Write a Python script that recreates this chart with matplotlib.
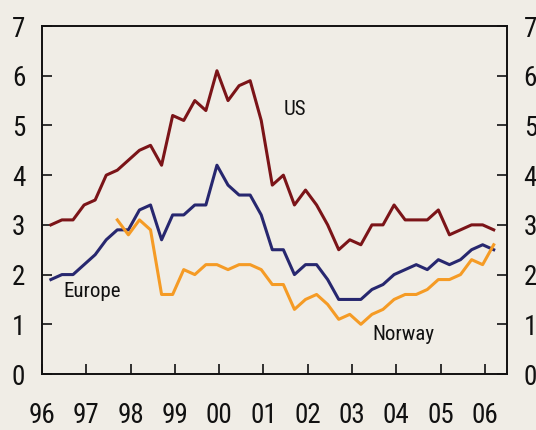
import numpy as np
import matplotlib.pyplot as plt

# Quarterly series, 1996 Q1 - 2006 Q2
us = [3.0, 3.1, 3.1, 3.4, 3.5, 4.0, 4.1, 4.3, 4.5, 4.6,
      4.2, 5.2, 5.1, 5.5, 5.3, 6.1, 5.5, 5.8, 5.9, 5.1,
      3.8, 4.0, 3.4, 3.7, 3.4, 3.0, 2.5, 2.7, 2.6, 3.0,
      3.0, 3.4, 3.1, 3.1, 3.1, 3.3, 2.8, 2.9, 3.0, 3.0,
      2.9]
europe = [1.9, 2.0, 2.0, 2.2, 2.4, 2.7, 2.9, 2.9, 3.3, 3.4,
          2.7, 3.2, 3.2, 3.4, 3.4, 4.2, 3.8, 3.6, 3.6, 3.2,
          2.5, 2.5, 2.0, 2.2, 2.2, 1.9, 1.5, 1.5, 1.5, 1.7,
          1.8, 2.0, 2.1, 2.2, 2.1, 2.3, 2.2, 2.3, 2.5, 2.6,
          2.5]
# Norway starts in 1997 Q4
norway = [3.1, 2.8, 3.1, 2.9,
          1.6, 1.6, 2.1, 2.0, 2.2, 2.2, 2.1, 2.2, 2.2, 2.1,
          1.8, 1.8, 1.3, 1.5, 1.6, 1.4, 1.1, 1.2, 1.0, 1.2,
          1.3, 1.5, 1.6, 1.6, 1.7, 1.9, 1.9, 2.0, 2.3, 2.2,
          2.6]
years = list(range(1996, 2007))
year_labels = ['96', '97', '98', '99', '00', '01', '02', '03', '04', '05', '06']

t = 1996.2 + 0.25 * np.arange(len(us))
t_nor = t[len(us) - len(norway):]

bg = '#f0ede6'
plt.rcParams['font.family'] = ['Roboto Condensed', 'DejaVu Sans']

fig = plt.figure(figsize=(5.36, 4.30), dpi=100, facecolor=bg)
ax = fig.add_axes([0.0784, 0.1302, 0.8675, 0.8093], facecolor=bg)

ax.plot(t, us, color='#7b1418', lw=2.2)
ax.plot(t, europe, color='#27276f', lw=2.2)
ax.plot(t_nor, norway, color='#f59b25', lw=2.2)

ax.set_xlim(1996, 2006.5)
ax.set_ylim(0, 7)
ax.set_xticks(years)
ax.set_xticklabels(year_labels)
ax.set_yticks(range(8))

ax.tick_params(axis='both', direction='in', length=7, width=1.3,
               labelsize=19.5, color='#222222', labelcolor='#111111')
ax.tick_params(axis='y', left=True, right=True,
               labelleft=True, labelright=True, pad=12)
ax.tick_params(axis='x', pad=20)

for s in ax.spines.values():
    s.set_linewidth(1.4)
    s.set_color('#111111')

txt = dict(fontsize=15, va='center', ha='left', color='#111111')
ax.text(2001.46, 5.32, 'US', **txt)
ax.text(1996.48, 1.65, 'Europe', **txt)
ax.text(2003.45, 0.8, 'Norway', **txt)

fig.savefig('out.png', dpi=100, facecolor=bg)
